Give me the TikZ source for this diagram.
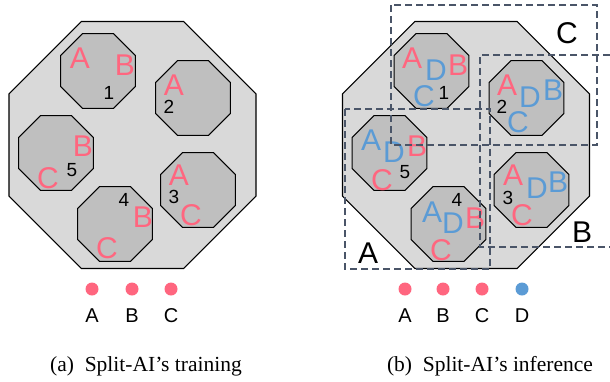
\documentclass[tikz,border=0pt]{standalone}
\usepackage{fontspec}
\setmainfont{Liberation Serif}
\newfontfamily\arialf{Liberation Sans}
\usetikzlibrary{shapes.geometric}
\definecolor{lred}{HTML}{FF667F}
\definecolor{lblue}{HTML}{5B9BD5}
\definecolor{bigfill}{HTML}{D9D9D9}
\definecolor{smallfill}{HTML}{BFBFBF}
\definecolor{dashc}{HTML}{4A5568}
\tikzset{
  bigoct/.style={regular polygon, regular polygon sides=8, minimum size=267.4pt, inner sep=0pt, draw=black, fill=bigfill, line width=1.1pt},
  smalloct/.style={regular polygon, regular polygon sides=8, minimum size=81pt, inner sep=0pt, draw=black, fill=smallfill, line width=1.1pt},
  lt/.style={inner sep=0pt, font=\arialf\fontsize{30}{30}\selectfont},
  rl/.style={lt, text=lred},
  bl/.style={lt, text=lblue},
  num/.style={inner sep=0pt, font=\arialf\fontsize{19}{19}\selectfont, text=black},
  boxlbl/.style={lt, text=black},
  dbox/.style={draw=dashc, line width=1.3pt, dash pattern=on 7pt off 4pt},
  legdot/.style={circle, inner sep=0pt, minimum size=13pt},
  leg/.style={inner sep=0pt, anchor=base, font=\arialf\fontsize{20}{20}\selectfont},
  captext/.style={inner sep=0pt, anchor=base, font=\fontsize{21.5}{21.5}\selectfont}
}
\begin{document}
\begin{tikzpicture}[x=1pt,y=-1pt]
\useasboundingbox (0,0) rectangle (610,381);
% ---------- left panel ----------
\node[bigoct] (Lbig) at (132.5,145) {};
\node[smalloct] (Lo1) at (98,71) {};
\node[smalloct] (Lo2) at (193,98) {};
\node[smalloct] (Lo3) at (198,190) {};
\node[smalloct] (Lo4) at (115,224) {};
\node[smalloct] (Lo5) at (56,153) {};
% octagon 1
\node[rl] (L1A) at (80,58) {A};
\node[rl] (L1B) at (125,65) {B};
\node[num] (L1n) at (109,93) {1};
% octagon 2
\node[rl] (L2A) at (174,85) {A};
\node[num] (L2n) at (169,107) {2};
% octagon 3
\node[rl] (L3A) at (179,175) {A};
\node[num] (L3n) at (174,197) {3};
\node[rl] (L3C) at (191,215) {C};
% octagon 4
\node[num] (L4n) at (124,200) {4};
\node[rl] (L4B) at (143,217) {B};
\node[rl] (L4C) at (107,248) {C};
% octagon 5
\node[rl] (L5B) at (83,146) {B};
\node[num] (L5n) at (72,170) {5};
\node[rl] (L5C) at (48,178) {C};
% legend left
\node[legdot, fill=lred] (LdA) at (92,289) {};
\node[legdot, fill=lred] (LdB) at (132,289) {};
\node[legdot, fill=lred] (LdC) at (171,289) {};
\node[leg] (LtA) at (92,322) {A};
\node[leg] (LtB) at (132,322) {B};
\node[leg] (LtC) at (171,322) {C};
\node[captext] (capa) at (146,371) {(a)\hspace{0.5em}Split-AI’s training};
% ---------- right panel ----------
\node[bigoct] (Rbig) at (466,145) {};
\node[smalloct] (Ro1) at (431.5,71) {};
\node[smalloct] (Ro2) at (526.5,98) {};
\node[smalloct] (Ro3) at (531.5,190) {};
\node[smalloct] (Ro4) at (448.5,224) {};
\node[smalloct] (Ro5) at (389.5,153) {};
% octagon 1
\node[rl] (R1A) at (412,58) {A};
\node[bl] (R1D) at (436,70) {D};
\node[rl] (R1B) at (458,65) {B};
\node[bl] (R1C) at (424,96) {C};
\node[num] (R1n) at (444,93) {1};
% octagon 2
\node[rl] (R2A) at (507,85) {A};
\node[bl] (R2D) at (530,97) {D};
\node[bl] (R2B) at (553,90) {B};
\node[num] (R2n) at (502,107) {2};
\node[bl] (R2C) at (518,122) {C};
% octagon 3
\node[rl] (R3A) at (513,175) {A};
\node[bl] (R3D) at (537,188) {D};
\node[bl] (R3B) at (558,182) {B};
\node[num] (R3n) at (508,198) {3};
\node[rl] (R3C) at (522,215) {C};
% octagon 4
\node[num] (R4n) at (457,200) {4};
\node[bl] (R4A) at (432,212) {A};
\node[bl] (R4D) at (453,223) {D};
\node[rl] (R4B) at (475,218) {B};
\node[rl] (R4C) at (441,250) {C};
% octagon 5
\node[bl] (R5A) at (371,140) {A};
\node[bl] (R5D) at (394,152) {D};
\node[rl] (R5B) at (417,146) {B};
\node[num] (R5n) at (405,172) {5};
\node[rl] (R5C) at (382,180) {C};
% dashed partitions
\draw[dbox] (391,5) rectangle (597,145);
\draw[dbox] (610,55) -- (480,55) -- (480,247) -- (610,247);
\draw[dbox] (345,109) rectangle (490,269);
\node[boxlbl] (bC) at (567,33) {C};
\node[boxlbl] (bB) at (582,232) {B};
\node[boxlbl] (bA) at (368,253) {A};
% legend right
\node[legdot, fill=lred] (RdA) at (405,289) {};
\node[legdot, fill=lred] (RdB) at (443,289) {};
\node[legdot, fill=lred] (RdC) at (482,289) {};
\node[legdot, fill=lblue] (RdD) at (522,289) {};
\node[leg] (RtA) at (405,322) {A};
\node[leg] (RtB) at (443,322) {B};
\node[leg] (RtC) at (482,322) {C};
\node[leg] (RtD) at (522,322) {D};
\node[captext] (capb) at (490,371) {(b)\hspace{0.5em}Split-AI’s inference};
\end{tikzpicture}
\end{document}
